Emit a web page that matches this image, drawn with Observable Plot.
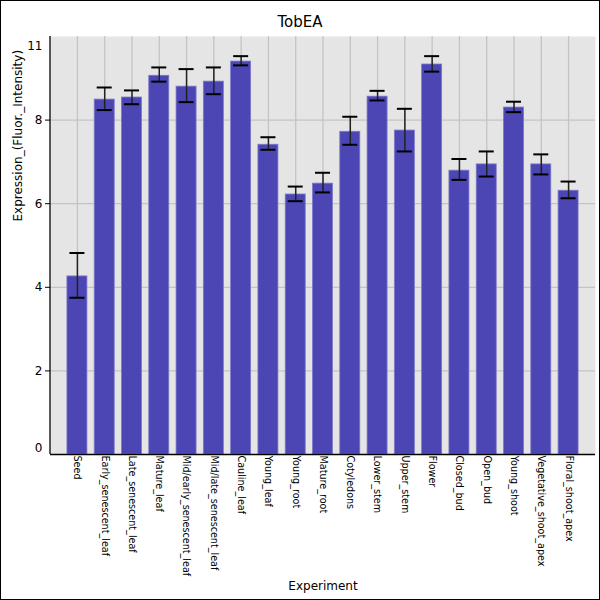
<!DOCTYPE html>
<html>
<head>
<meta charset="utf-8">
<script src="https://cdn.jsdelivr.net/npm/d3@7"></script>
<script src="https://cdn.jsdelivr.net/npm/@observablehq/plot@0.6"></script>
<style>
  html, body { margin: 0; padding: 0; background: #fff; }
  #wrap { position: relative; width: 600px; height: 600px; overflow: hidden; }
  #wrap svg { position: absolute; left: 0; top: 0; }
  #border { position: absolute; left: 0; top: 0; width: 600px; height: 600px; box-sizing: border-box; border: 1px solid #000; pointer-events: none; }
</style>
</head>
<body>
<div id="wrap"><div id="border"></div></div>
<script>
const title = "TobEA";
const xLabel = "Experiment";
const yLabel = "Expression_(Fluor._Intensity)";

const categories = ["Seed","Early_senescent_leaf","Late_senescent_leaf","Mature_leaf","Mid/early_senescent_leaf","Mid/late_senescent_leaf","Cauline_leaf","Young_leaf","Young_root","Mature_root","Cotyledons","Lower_stem","Upper_stem","Flower","Closed_bud","Open_bud","Young_shoot","Vegetative_shoot_apex","Floral_shoot_apex"];
const values   = [4.26, 8.49, 8.54, 9.06, 8.80, 8.92, 9.40, 7.41, 6.22, 6.48, 7.72, 8.56, 7.75, 9.33, 6.79, 6.94, 8.30, 6.94, 6.31];
const errHigh  = [4.82, 8.78, 8.71, 9.26, 9.22, 9.26, 9.53, 7.59, 6.41, 6.74, 8.08, 8.70, 8.27, 9.53, 7.07, 7.25, 8.44, 7.18, 6.53];
const errLow   = [3.75, 8.24, 8.38, 8.92, 8.43, 8.62, 9.31, 7.29, 6.06, 6.27, 7.41, 8.47, 7.25, 9.16, 6.57, 6.65, 8.19, 6.70, 6.13];

const yTicks = [0, 2, 4, 6, 8, 10];
const yTickLabels = ["0", "2", "4", "6", "8", "11"];

const data = categories.map((c, i) => ({cat: c, v: values[i], hi: errHigh[i], lo: errLow[i]}));
const lab = v => yTickLabels[yTicks.indexOf(v)];

const marginLeft = 50, marginTop = 36, marginRight = 5, marginBottom = 146;

const chart = Plot.plot({
  width: 600,
  height: 600,
  marginLeft, marginTop, marginRight, marginBottom,
  style: {fontFamily: "DejaVu Sans", fontSize: "12px", background: "transparent"},
  x: {domain: categories, paddingInner: 0.267, paddingOuter: 0.62, round: false, label: null},
  y: {domain: [0, 10], label: null},
  marks: [
    Plot.frame({fill: "#e5e5e5", stroke: null}),
    Plot.gridY(yTicks.slice(1, 5), {stroke: "#c4c4c4", strokeOpacity: 1, strokeWidth: 1.3}),
    Plot.gridX(categories, {stroke: "#c4c4c4", strokeOpacity: 1, strokeWidth: 1.3}),
    Plot.barY(data, {x: "cat", y: "v", fill: "#4b46b3", stroke: "#7d79c9", strokeWidth: 0.8}),
    Plot.ruleX(data, {x: "cat", y1: "lo", y2: "hi", stroke: "#222", strokeWidth: 1.5}),
    Plot.tickY(data, {x: "cat", y: "hi", stroke: "#000", strokeWidth: 2, insetLeft: 2.5, insetRight: 2.5}),
    Plot.tickY(data, {x: "cat", y: "lo", stroke: "#000", strokeWidth: 2, insetLeft: 2.5, insetRight: 2.5}),
    Plot.ruleY([0], {stroke: "#000", strokeWidth: 1.3}),
    Plot.axisY(yTicks.slice(1, 5), {tickSize: 5, tickPadding: 3, tickFormat: lab, label: null, fontSize: 12, stroke: "#000"}),
    Plot.axisY([yTicks[0]], {tickSize: 0, tickPadding: 8, dy: -6, tickFormat: lab, label: null, fontSize: 12}),
    Plot.axisY([yTicks[5]], {tickSize: 0, tickPadding: 8, dy: 10, tickFormat: lab, label: null, fontSize: 12}),
    Plot.axisX({tickSize: 0, tickPadding: 1, tickRotate: 90, fontSize: 9.6, label: null}),
    Plot.text([title], {frameAnchor: "top", dx: -23, dy: -20, fontSize: 15, fill: "#000"}),
    Plot.text([xLabel], {frameAnchor: "bottom", dy: 135, fontSize: 12, fill: "#000"}),
    Plot.text([yLabel], {frameAnchor: "left", dx: -32, dy: -24, rotate: -90, fontSize: 12, fill: "#000"})
  ]
});

// left axis spine
d3.select(chart).append("line")
  .attr("x1", marginLeft).attr("x2", marginLeft)
  .attr("y1", marginTop).attr("y2", 600 - marginBottom)
  .attr("stroke", "#000").attr("stroke-width", 1.3);

document.getElementById("wrap").prepend(chart);
</script>
</body>
</html>
